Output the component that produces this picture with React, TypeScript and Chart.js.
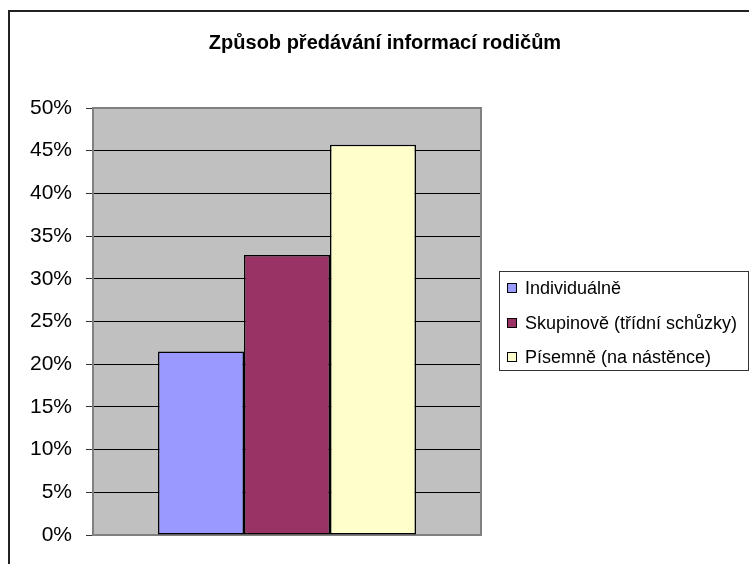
import { useEffect, useRef } from 'react';
import { Chart, registerables } from 'chart.js';

Chart.register(...registerables);

const chartTitle = 'Způsob předávání informací rodičům';
const categories = [''];
const seriesLabels = ['Individuálně', 'Skupinově (třídní schůzky)', 'Písemně (na nástěnce)'];
const seriesValues = [21.5, 32.8, 45.7];
const seriesColors = ['#9999FF', '#993366', '#FFFFCC'];
const yMin = 0;
const yMax = 50;
const yStep = 5;

const W = 760;
const H = 580;
const FONT = "'Liberation Sans', Arial, Helvetica, sans-serif";

export default function App() {
  const ref = useRef<HTMLCanvasElement>(null);

  useEffect(() => {
    const canvas = ref.current;
    if (!canvas) return;

    const decor = {
      id: 'decor',
      beforeDraw(chart: any) {
        const { ctx, chartArea: a } = chart;
        ctx.save();
        ctx.fillStyle = '#ffffff';
        ctx.fillRect(0, 0, W, H);
        ctx.strokeStyle = '#222222';
        ctx.lineWidth = 2;
        ctx.strokeRect(1, 1, W - 2, H - 2);
        ctx.fillStyle = '#C0C0C0';
        ctx.fillRect(a.left, a.top, a.right - a.left, a.bottom - a.top);
        ctx.restore();
      },
      beforeDatasetsDraw(chart: any) {
        const { ctx, chartArea: a } = chart;
        ctx.save();
        ctx.strokeStyle = '#808080';
        ctx.lineWidth = 2;
        ctx.strokeRect(a.left, a.top, a.right - a.left, a.bottom - a.top);
        ctx.restore();
      },
      afterDraw(chart: any) {
        const { ctx } = chart;
        ctx.save();
        // title
        ctx.fillStyle = '#000';
        ctx.font = `bold 20px ${FONT}`;
        ctx.textAlign = 'center';
        ctx.textBaseline = 'middle';
        ctx.fillText(chartTitle, 377, 33);
        // legend box
        ctx.strokeStyle = '#333';
        ctx.lineWidth = 1;
        ctx.strokeRect(491.5, 261.5, 249, 99);
        ctx.font = `18px ${FONT}`;
        ctx.textAlign = 'left';
        const rows = [278, 313, 347];
        chart.data.datasets.forEach((ds: any, i: number) => {
          const cy = rows[i];
          ctx.fillStyle = ds.backgroundColor;
          ctx.fillRect(499, cy - 5, 10, 10);
          ctx.strokeStyle = '#000';
          ctx.strokeRect(499.5, cy - 4.5, 9, 9);
          ctx.fillStyle = '#000';
          ctx.fillText(ds.label, 517, cy + 1);
        });
        ctx.restore();
      },
    };

    const chart = new Chart(canvas, {
      type: 'bar',
      data: {
        labels: categories,
        datasets: seriesLabels.map((label, i) => ({
          label,
          data: [seriesValues[i]],
          backgroundColor: seriesColors[i],
          borderColor: '#000000',
          borderWidth: 1.5,
          borderSkipped: false,
          categoryPercentage: 0.665,
          barPercentage: 1,
        })),
      },
      options: {
        animation: false,
        responsive: false,
        devicePixelRatio: 1,
        layout: { padding: { left: 0, top: 98, right: W - 473, bottom: H - 525 } },
        plugins: {
          legend: { display: false },
          title: { display: false },
          tooltip: { enabled: false },
        },
        scales: {
          x: { display: false },
          y: {
            min: yMin,
            max: yMax,
            afterFit: (s: any) => {
              s.width = 85;
            },
            border: { display: false },
            grid: {
              color: (c: any) =>
                c.tick && (c.tick.value === yMin || c.tick.value === yMax) ? '#808080' : '#000000',
              tickColor: '#333333',
              tickLength: 7,
              lineWidth: 1,
            },
            ticks: {
              stepSize: yStep,
              padding: 14,
              color: '#000',
              font: { family: FONT, size: 21 },
              callback: (v: any) => `${v}%`,
            },
          },
        },
      },
      plugins: [decor],
    });

    return () => chart.destroy();
  }, []);

  return (
    <div
      style={{
        position: 'fixed',
        left: 0,
        top: 0,
        width: 749,
        height: 564,
        overflow: 'hidden',
        background: '#fff',
      }}
    >
      <canvas
        ref={ref}
        width={W}
        height={H}
        style={{ position: 'absolute', left: 8, top: 10, width: W, height: H }}
      />
    </div>
  );
}
